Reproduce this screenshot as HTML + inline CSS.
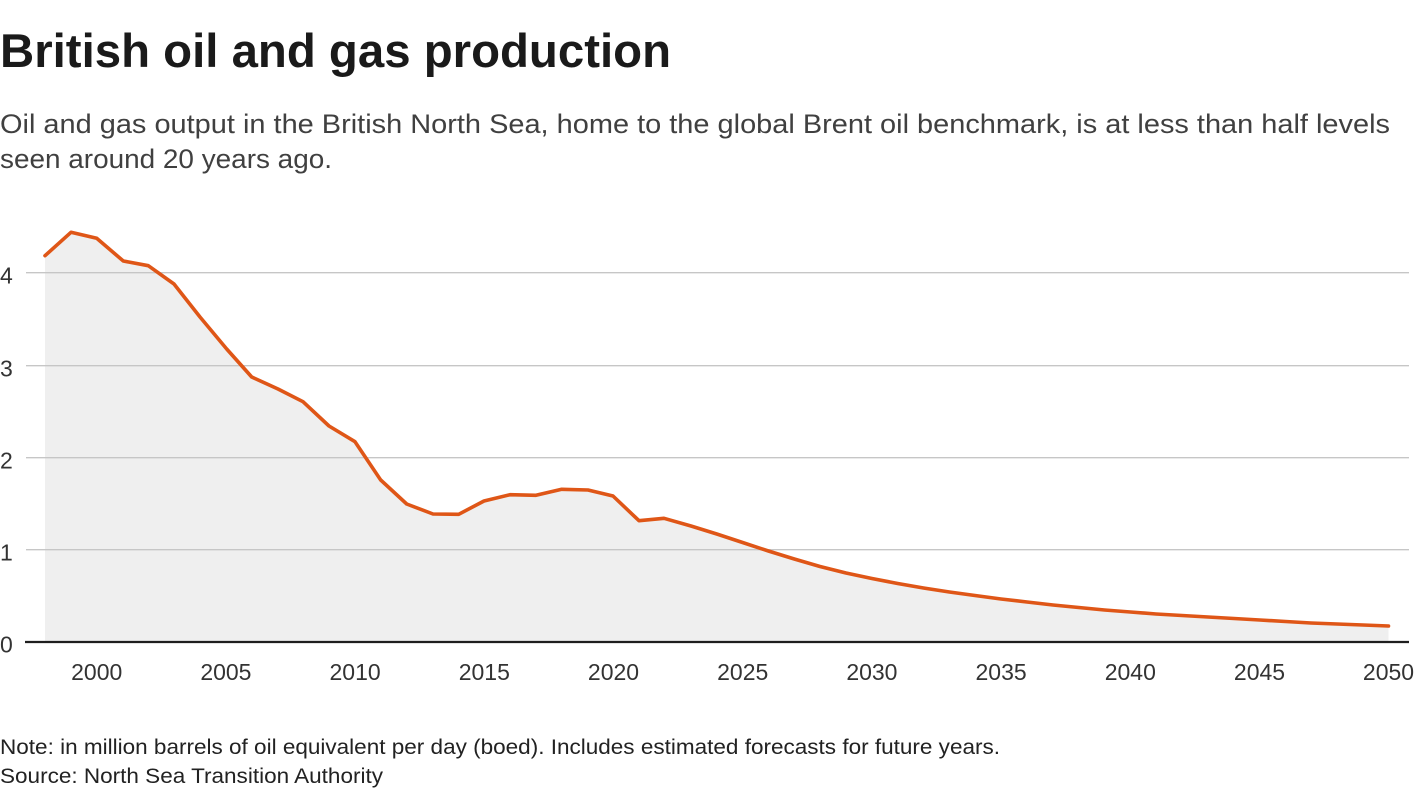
<!DOCTYPE html>
<html>
<head>
<meta charset="utf-8">
<style>
  html,body{margin:0;padding:0;background:#fff;}
  svg{display:block;}
  text{font-family:"Liberation Sans", Arial, sans-serif;}
</style>
</head>
<body>
<svg width="1420" height="800" viewBox="0 0 1420 800" xmlns="http://www.w3.org/2000/svg">
  <rect width="1420" height="800" fill="#fff"/>
  <!-- Title -->
  <text x="0" y="67" font-size="47.5" font-weight="bold" fill="#1a1a1a" textLength="671" lengthAdjust="spacingAndGlyphs">British oil and gas production</text>
  <!-- Subtitle -->
  <text x="0" y="133" font-size="27" fill="#404040" textLength="1390" lengthAdjust="spacingAndGlyphs">Oil and gas output in the British North Sea, home to the global Brent oil benchmark, is at less than half levels</text>
  <text x="0" y="168" font-size="27" fill="#404040" textLength="332" lengthAdjust="spacingAndGlyphs">seen around 20 years ago.</text>

  <!-- Area fill -->
  <polygon fill="#efefef" points="45,642 45,255.7 71,232.3 96.7,238.3 123.3,261 148.3,265.7 174,284 200,317 226.7,349 251.7,377 278,389 303,401.7 329,426 355,441.7 380.7,480 406.7,504 433,514 458.7,514.3 484,501 510,494.7 536,495.3 561.7,489.3 588,490 613,496 639,520.7 664,518.3 691,526 716.8,534 742.6,542.5 768.4,551 794.3,559 820,566.5 846,573 871.9,578.5 897.7,583.5 923.5,588 949.4,592 975,595.5 1001,599 1027,602 1053,605 1078.7,607.5 1104.5,610 1130.4,612 1156,614 1182,615.5 1208,617 1234,618.5 1259.7,620 1285.5,621.5 1311,623 1337,624 1363,625 1388.5,626 1388.5,642"/>

  <!-- Gridlines -->
  <g stroke="#c6c6c6" stroke-width="1.3">
    <line x1="26" y1="549.7" x2="1409" y2="549.7"/>
    <line x1="26" y1="457.7" x2="1409" y2="457.7"/>
    <line x1="26" y1="365.7" x2="1409" y2="365.7"/>
    <line x1="26" y1="272.7" x2="1409" y2="272.7"/>
  </g>
  <!-- Baseline -->
  <line x1="25" y1="642" x2="1409" y2="642" stroke="#1e1e1e" stroke-width="2.2"/>

  <!-- Y labels -->
  <g font-size="23" fill="#333">
    <text x="0" y="652.5">0</text>
    <text x="0" y="560.5">1</text>
    <text x="0" y="468.5">2</text>
    <text x="0" y="376.5">3</text>
    <text x="0" y="283.5">4</text>
  </g>

  <!-- Line -->
  <polyline fill="none" stroke="#df5617" stroke-width="3.6" stroke-linejoin="round" stroke-linecap="round" points="45,255.7 71,232.3 96.7,238.3 123.3,261 148.3,265.7 174,284 200,317 226.7,349 251.7,377 278,389 303,401.7 329,426 355,441.7 380.7,480 406.7,504 433,514 458.7,514.3 484,501 510,494.7 536,495.3 561.7,489.3 588,490 613,496 639,520.7 664,518.3 691,526 716.8,534 742.6,542.5 768.4,551 794.3,559 820,566.5 846,573 871.9,578.5 897.7,583.5 923.5,588 949.4,592 975,595.5 1001,599 1027,602 1053,605 1078.7,607.5 1104.5,610 1130.4,612 1156,614 1182,615.5 1208,617 1234,618.5 1259.7,620 1285.5,621.5 1311,623 1337,624 1363,625 1388.5,626"/>

  <!-- X labels -->
  <g font-size="23" fill="#333" text-anchor="middle">
    <text x="96.7" y="680">2000</text>
    <text x="225.9" y="680">2005</text>
    <text x="355.1" y="680">2010</text>
    <text x="484.3" y="680">2015</text>
    <text x="613.5" y="680">2020</text>
    <text x="742.7" y="680">2025</text>
    <text x="871.9" y="680">2030</text>
    <text x="1001.1" y="680">2035</text>
    <text x="1130.3" y="680">2040</text>
    <text x="1259.5" y="680">2045</text>
    <text x="1388.5" y="680">2050</text>
  </g>

  <!-- Footer -->
  <text x="0" y="754" font-size="21" fill="#222" textLength="1000" lengthAdjust="spacingAndGlyphs">Note: in million barrels of oil equivalent per day (boed). Includes estimated forecasts for future years.</text>
  <text x="0" y="783" font-size="21" fill="#222" textLength="383" lengthAdjust="spacingAndGlyphs">Source: North Sea Transition Authority</text>
</svg>
</body>
</html>
